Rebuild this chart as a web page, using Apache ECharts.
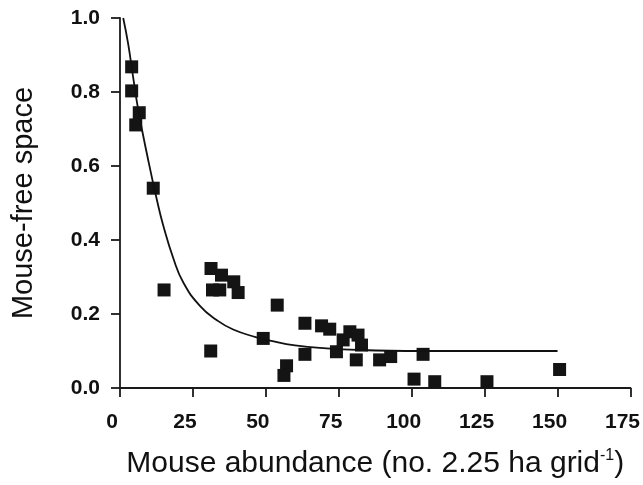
<!DOCTYPE html>
<html>
<head>
<meta charset="utf-8">
<script src="https://cdn.jsdelivr.net/npm/echarts@6/dist/echarts.min.js"></script>
<style>html,body{margin:0;padding:0;background:#fff}#c{width:643px;height:485px}</style>
</head>
<body>
<div id="c"></div>
<script>
var abundance = [4.0,4.0,6.6,5.4,11.4,15.1,31.2,34.8,31.7,34.2,39.0,40.5,31.1,53.9,49.1,63.4,63.4,57.1,56.2,69.1,71.9,74.2,76.5,78.8,81.6,82.8,81.0,89.0,92.8,103.9,100.8,107.9,125.8,150.7];
var freeSpace = [0.868,0.803,0.744,0.711,0.54,0.265,0.323,0.305,0.265,0.265,0.287,0.258,0.10,0.224,0.134,0.175,0.091,0.06,0.034,0.168,0.159,0.098,0.13,0.152,0.143,0.116,0.076,0.076,0.085,0.091,0.024,0.017,0.017,0.05];
var curveX = [1.1,2.8,4.5,6.3,9.7,12.6,14.8,18.3,21.7,27.4,33.1,38.8,46.8,51.4,60,70.8,85,98,125,150];
var curveY = [1.0,0.93,0.84,0.75,0.615,0.51,0.44,0.35,0.285,0.222,0.184,0.158,0.137,0.128,0.115,0.107,0.102,0.1,0.1,0.1];
var xTicks = [0,25,50,75,100,125,150,175];
var yTicks = [0.0,0.2,0.4,0.6,0.8,1.0];

var pts = abundance.map(function(v,i){return [v, freeSpace[i]];});
var curve = curveX.map(function(v,i){return [v, curveY[i]];});

var FONT = 'Liberation Sans, Arial, sans-serif';
var chart = echarts.init(document.getElementById('c'));
var axisCommon = {
  axisLine:{show:true,lineStyle:{color:'#1a1a1a',width:1.8}},
  axisTick:{show:true,inside:false,length:9,lineStyle:{color:'#1a1a1a',width:1.8}},
  splitLine:{show:false},
  axisLabel:{color:'#111',fontFamily:FONT,fontWeight:'bold',fontSize:21}
};
chart.setOption({
  animation:false,
  backgroundColor:'#fff',
  grid:{left:120,right:12,top:18,bottom:97},
  xAxis:Object.assign({},axisCommon,{
    type:'value',min:0,max:175,interval:25,
    name:'Mouse abundance (no. 2.25 ha grid{sup|-1})',
    nameLocation:'middle',nameGap:60,
    nameTextStyle:{color:'#111',fontFamily:FONT,fontSize:30,
      rich:{sup:{fontSize:16,verticalAlign:'top',lineHeight:32,padding:[0,0,12,0],color:'#111',fontFamily:FONT}}},
    axisLabel:Object.assign({},axisCommon.axisLabel,{margin:24,padding:[0,16,0,0],
      formatter:function(v){return xTicks.indexOf(v)>=0?String(v):'';}})
  }),
  yAxis:Object.assign({},axisCommon,{
    type:'value',min:0,max:1,interval:0.2,
    name:'Mouse-free space',nameLocation:'middle',nameGap:82,nameRotate:90,
    nameTextStyle:{color:'#111',fontFamily:FONT,fontSize:29},
    axisLabel:Object.assign({},axisCommon.axisLabel,{margin:20,
      formatter:function(v){var t=yTicks.filter(function(k){return Math.abs(k-v)<1e-9;});return t.length?t[0].toFixed(1):'';}})
  }),
  series:[
    {type:'line',data:curve,smooth:true,showSymbol:false,symbol:'none',
     lineStyle:{color:'#111',width:1.8},z:3},
    {type:'scatter',data:pts,symbol:'rect',symbolSize:13,
     itemStyle:{color:'#141414',opacity:1},z:2}
  ]
});
</script>
</body>
</html>
